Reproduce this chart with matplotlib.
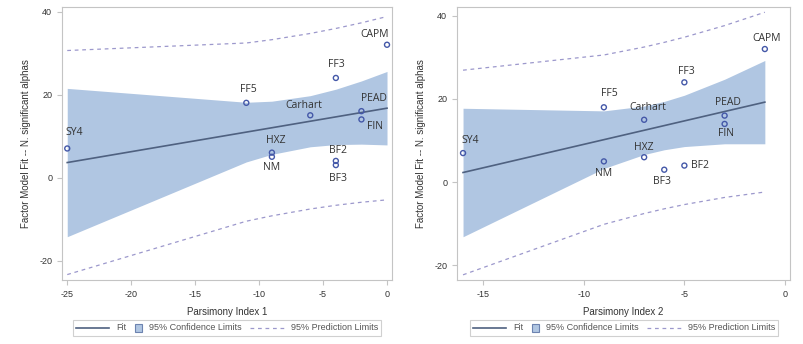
import numpy as np
import matplotlib
matplotlib.use("Agg")
import matplotlib.pyplot as plt
from matplotlib.lines import Line2D
from matplotlib.patches import Rectangle
from matplotlib.offsetbox import DrawingArea, TextArea, HPacker, AnchoredOffsetbox

# factor models and their number of significant alphas (same on both panels)
models = ["SY4", "FF5", "HXZ", "NM", "Carhart", "FF3", "BF2", "BF3", "PEAD", "FIN", "CAPM"]
n_alphas = [7, 18, 6, 5, 15, 24, 4, 3, 16, 14, 32]

# parsimony indices, same order as models
pars_idx1 = [-25, -11, -9, -9, -6, -4, -4, -4, -2, -2, 0]
pars_idx2 = [-16, -9, -7, -9, -7, -5, -5, -6, -3, -3, -1]

T_CRIT = 2.262  # t(0.975, df=9)

# label offsets in pixels (dx, dy) -- placement only
offs1 = {"SY4": (7, 16), "FF5": (2, 13), "HXZ": (4, 12), "NM": (0, -11),
         "Carhart": (-6, 10), "FF3": (1, 13), "BF2": (2, 10), "BF3": (2, -13),
         "PEAD": (13, 13), "FIN": (14, -7), "CAPM": (-12, 10)}
offs2 = {"SY4": (7, 13), "FF5": (5, 14), "HXZ": (0, 10), "NM": (0, -12),
         "Carhart": (4, 12), "FF3": (2, 11), "BF2": (16, 0), "BF3": (-2, -12),
         "PEAD": (3, 13), "FIN": (1, -10), "CAPM": (2, 11)}

BAND = "#b0c6e2"
FIT = "#4f6180"
PRED = "#9c98cc"
MARK = "#4458a8"
GRID = "#c4c4c4"
TXT = "#333333"
LEG = "#555555"


def fit_bands(x, y):
    x = np.asarray(x, float)
    y = np.asarray(y, float)
    n = len(x)
    b, a = np.polyfit(x, y, 1)
    resid = y - (a + b * x)
    s = np.sqrt((resid ** 2).sum() / (n - 2))
    sxx = ((x - x.mean()) ** 2).sum()
    xs = np.unique(x)
    yh = a + b * xs
    h = np.sqrt(1.0 / n + (xs - x.mean()) ** 2 / sxx)
    cl = T_CRIT * s * h
    pl = T_CRIT * s * np.sqrt(1 + h ** 2)
    return xs, yh, cl, pl


def panel(ax, x, offs, xlab, xlim, xticks, ylim):
    xs, yh, cl, pl = fit_bands(x, n_alphas)
    ax.fill_between(xs, yh - cl, yh + cl, color=BAND, lw=0, zorder=1)
    ax.plot(xs, yh, color=FIT, lw=1.2, zorder=3)
    ax.plot(xs, yh + pl, color=PRED, lw=0.9, ls=(0, (3, 3)), zorder=2)
    ax.plot(xs, yh - pl, color=PRED, lw=0.9, ls=(0, (3, 3)), zorder=2)
    ax.scatter(x, n_alphas, s=13, facecolors="none", edgecolors=MARK, lw=1.0, zorder=4)
    for m, xi, yi in zip(models, x, n_alphas):
        dx, dy = offs[m]
        ax.annotate(m, (xi, yi), xytext=(dx, dy), textcoords="offset pixels",
                    ha="center", va="center", fontsize=7.5, color=TXT,
                    family="Open Sans", zorder=5)
    ax.set_xlim(*xlim)
    ax.set_ylim(*ylim)
    ax.set_xticks(xticks)
    ax.set_yticks([-20, 0, 20, 40])
    for sp in ax.spines.values():
        sp.set_color(GRID)
        sp.set_linewidth(0.8)
    ax.tick_params(colors=GRID, labelcolor=TXT, labelsize=6.5, length=3.5, width=0.8)
    ax.set_xlabel(xlab, fontsize=7, color=TXT, labelpad=6)
    ax.set_ylabel("Factor Model Fit -- N. significant alphas", fontsize=7, color=TXT, labelpad=6)


def legend_row(fig, cx, cy):
    d1 = DrawingArea(24, 6)
    d1.add_artist(Line2D([0, 24], [3, 3], color=FIT, lw=1.2))
    d2 = DrawingArea(5.5, 6)
    d2.add_artist(Rectangle((0, 0.25), 5.5, 5.5, facecolor=BAND, edgecolor="#6d83b0", lw=0.8))
    d3 = DrawingArea(24, 6)
    d3.add_artist(Line2D([0, 24], [3, 3], color=PRED, lw=0.9, ls=(0, (3, 3))))
    items = []
    for da, lab in [(d1, "Fit"), (d2, "95% Confidence Limits"), (d3, "95% Prediction Limits")]:
        ta = TextArea(lab, textprops=dict(fontsize=6.5, color=LEG))
        items.append(HPacker(children=[da, ta], align="center", pad=0, sep=5))
    row = HPacker(children=items, align="center", pad=0, sep=6)
    box = AnchoredOffsetbox(loc="center", child=row, pad=0.25, borderpad=0, frameon=True,
                            bbox_to_anchor=(cx, cy), bbox_transform=fig.transFigure)
    box.patch.set_edgecolor("#d0d0d0")
    box.patch.set_linewidth(0.8)
    fig.add_artist(box)


plt.rcParams["font.family"] = ["Liberation Sans", "DejaVu Sans"]
plt.rcParams["axes.unicode_minus"] = False
fig = plt.figure(figsize=(8.04, 3.44), dpi=100)
ax1 = fig.add_axes([62 / 804, 64 / 344, 330 / 804, 273 / 344])
ax2 = fig.add_axes([457 / 804, 64 / 344, 333 / 804, 273 / 344])

panel(ax1, pars_idx1, offs1, "Parsimony Index 1", (-25.41, 0.39), [-25, -20, -15, -10, -5, 0], (-24.7, 41.1))
panel(ax2, pars_idx2, offs2, "Parsimony Index 2", (-16.3, 0.25), [-15, -10, -5, 0], (-23.5, 42.1))

legend_row(fig, 227 / 804, 16 / 344)
legend_row(fig, 624 / 804, 16 / 344)

fig.savefig("out.png", dpi=100)
